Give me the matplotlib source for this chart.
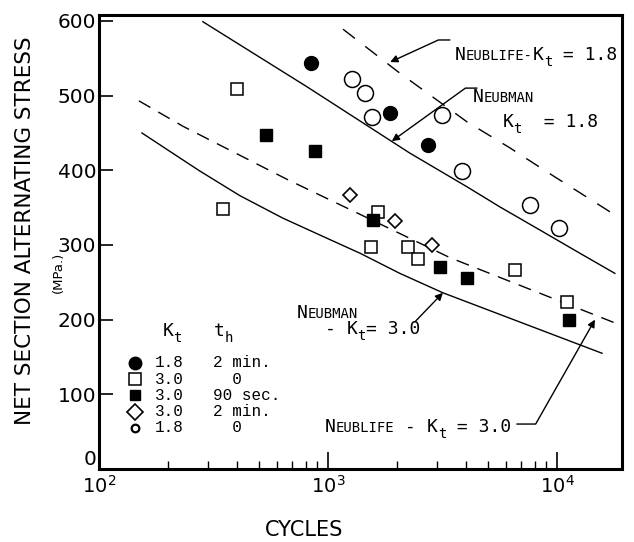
import matplotlib
matplotlib.use("Agg")
import matplotlib.pyplot as plt
import numpy as np

# points (cycles, MPa)
# Kt = 1.8, th = 2 min
n_18_2min = [844, 1866, 2736]
s_18_2min = [544, 477, 434]
# Kt = 3.0, th = 0
n_30_0 = [401, 348, 1652, 1541, 2234, 2472, 6561, 11070]
s_30_0 = [509, 348, 344, 297, 297, 281, 266, 224]
# Kt = 3.0, th = 90 sec
n_30_90s = [536, 877, 1574, 3083, 4046, 11270]
s_30_90s = [447, 426, 333, 270, 256, 200]
# Kt = 3.0, th = 2 min
n_30_2min = [1247, 1963, 2844]
s_30_2min = [367, 332, 300]
# Kt = 1.8, th = 0
n_18_0 = [1274, 1452, 1556, 3147, 3846, 7621, 10210]
s_18_0 = [522, 503, 471, 474, 399, 354, 323]

# predicted curves (log10 cycles, MPa)
neubman_18_logn = [2.454, 2.908, 3.358, 3.607, 3.751, 3.926, 4.100, 4.253]
neubman_18_s = [599, 512, 423, 378, 351, 320, 289, 262]
neublife_18_logn = [3.066, 3.306, 3.607, 3.795, 3.956, 4.131, 4.275]
neublife_18_s = [589, 532, 465, 430, 398, 364, 336]
neubman_30_logn = [2.188, 2.297, 2.441, 2.616, 2.803, 2.996, 3.140, 3.314, 3.502, 4.197]
neubman_30_s = [450, 428, 399, 366, 336, 309, 289, 262, 236, 155]
neublife_30_logn = [2.175, 2.367, 2.821, 3.127, 3.533, 4.275]
neublife_30_s = [493, 459, 388, 343, 283, 193]

legend_kt = ["1.8", "3.0", "3.0", "3.0", "1.8"]
legend_th = ["2 min.", "  0", "90 sec.", "2 min.", "  0"]

MONO = "DejaVu Sans Mono"
TYPE = "Liberation Mono"


def lettering(ax, x, y, pieces):
	# fake small caps / subscripts with a monospaced font
	cur = 0.0
	for txt, size, dy in pieces:
		ax.annotate(txt, (x, y), xycoords="axes fraction", xytext=(cur, dy),
			textcoords="offset points", fontsize=size, family=MONO,
			va="baseline", ha="left", annotation_clip=False)
		cur += len(txt) * 0.602 * size


def leader(ax, xy, xytext, angle=None):
	if angle is None:
		cs = "arc3,rad=0"
	else:
		cs = "angle,angleA=0,angleB=%g,rad=0" % angle
	ax.annotate("", xy=xy, xycoords="data", xytext=xytext, textcoords="axes fraction",
		arrowprops=dict(arrowstyle="-|>", color="k", lw=1.0, mutation_scale=11,
			shrinkA=0, shrinkB=0, connectionstyle=cs), annotation_clip=False)


fig = plt.figure(figsize=(6.34, 5.42), dpi=100)
ax = fig.add_axes([0.156, 0.1347, 0.825, 0.8376])

ax.plot(10 ** np.array(neubman_18_logn), neubman_18_s, color="k", lw=1.0)
ax.plot(10 ** np.array(neublife_18_logn), neublife_18_s, color="k", lw=1.0, ls=(0, (10.8, 9.4)))
ax.plot(10 ** np.array(neubman_30_logn), neubman_30_s, color="k", lw=1.0)
ax.plot(10 ** np.array(neublife_30_logn), neublife_30_s, color="k", lw=1.0, ls=(0, (9.5, 6.5)))

series = [
	(n_18_2min, s_18_2min, dict(marker="o", ms=10, mfc="k", mec="k"), dict(marker="o", ms=9, mfc="k", mec="k")),
	(n_30_0, s_30_0, dict(marker="s", ms=8, mfc="white", mec="k", mew=1.1), dict(marker="s", ms=8, mfc="white", mec="k", mew=1.1)),
	(n_30_90s, s_30_90s, dict(marker="s", ms=8, mfc="k", mec="k"), dict(marker="s", ms=7.5, mfc="k", mec="k")),
	(n_30_2min, s_30_2min, dict(marker="D", ms=7.5, mfc="white", mec="k", mew=1.2), dict(marker="D", ms=8, mfc="white", mec="k", mew=1.2)),
	(n_18_0, s_18_0, dict(marker="o", ms=11.5, mfc="white", mec="k", mew=1.1), dict(marker="o", ms=5.5, mfc="white", mec="k", mew=1.6)),
]
for i, (n, s, st, lst) in enumerate(series):
	ax.plot(n, s, ls="none", **st)
	yy = 0.2335 - i * 0.0358
	ax.plot([0.069], [yy], ls="none", transform=ax.transAxes, clip_on=False, **lst)
	ax.text(0.107, yy, legend_kt[i], transform=ax.transAxes, family=TYPE, fontsize=11.5, va="center")
	ax.text(0.218, yy, legend_th[i], transform=ax.transAxes, family=TYPE, fontsize=11.5, va="center")

lettering(ax, 0.122, 0.293, [("K", 13, 0), ("t", 10, -4)])
lettering(ax, 0.220, 0.293, [("t", 13, 0), ("h", 10, -4)])

ax.set_xscale("log")
ax.set_xlim(100, 19230)
ax.set_ylim(0, 608)
ax.set_yticks([0, 100, 200, 300, 400, 500, 600])

# curve labels
lettering(ax, 0.681, 0.901, [("N", 13, 0), ("EUBLIFE-", 10, 0), ("K", 13, 0), ("t", 10, -4), (" = 1.8", 13, 0)])
lettering(ax, 0.715, 0.808, [("N", 13, 0), ("EUBMAN", 10, 0)])
lettering(ax, 0.772, 0.753, [("K", 13, 0), ("t", 10, -4), ("  = 1.8", 13, 0)])
lettering(ax, 0.379, 0.333, [("N", 13, 0), ("EUBMAN", 10, 0)])
lettering(ax, 0.432, 0.297, [("- ", 13, 0), ("K", 13, 0), ("t", 10, -4), ("= 3.0", 13, 0)])
lettering(ax, 0.432, 0.0815, [("N", 13, 0), ("EUBLIFE", 10, 0), (" - ", 13, 0), ("K", 13, 0), ("t", 10, -4), (" = 3.0", 13, 0)])

leader(ax, (1870, 545), (0.671, 0.945), 24.6)
leader(ax, (1901, 439), (0.723, 0.839), 35.8)
leader(ax, (3178, 236), (0.604, 0.324))
leader(ax, (14660, 200), (0.799, 0.099), 60.4)

for sp in ax.spines.values():
	sp.set_linewidth(2.2)
ax.tick_params(axis="y", which="major", direction="in", length=10, width=1.2, labelsize=14.5, pad=2)
ax.tick_params(axis="x", which="major", direction="in", length=12, width=1.2, labelsize=14, pad=4)
ax.tick_params(axis="x", which="minor", direction="in", length=6, width=1.0)
# the zero label sits a little above the corner in the original
ax.yaxis.get_major_ticks()[0].label1.set_va("bottom")

ax.set_ylabel("NET SECTION ALTERNATING STRESS", fontsize=15.5)
ax.yaxis.set_label_coords(-0.122, 0.524)
ax.text(-0.078, 0.434, "(MPa.)", transform=ax.transAxes, rotation=90, fontsize=9.5, ha="center", va="center")
ax.set_xlabel("CYCLES", fontsize=15)
ax.xaxis.set_label_coords(0.392, -0.112)

fig.savefig("out.png", dpi=100)
